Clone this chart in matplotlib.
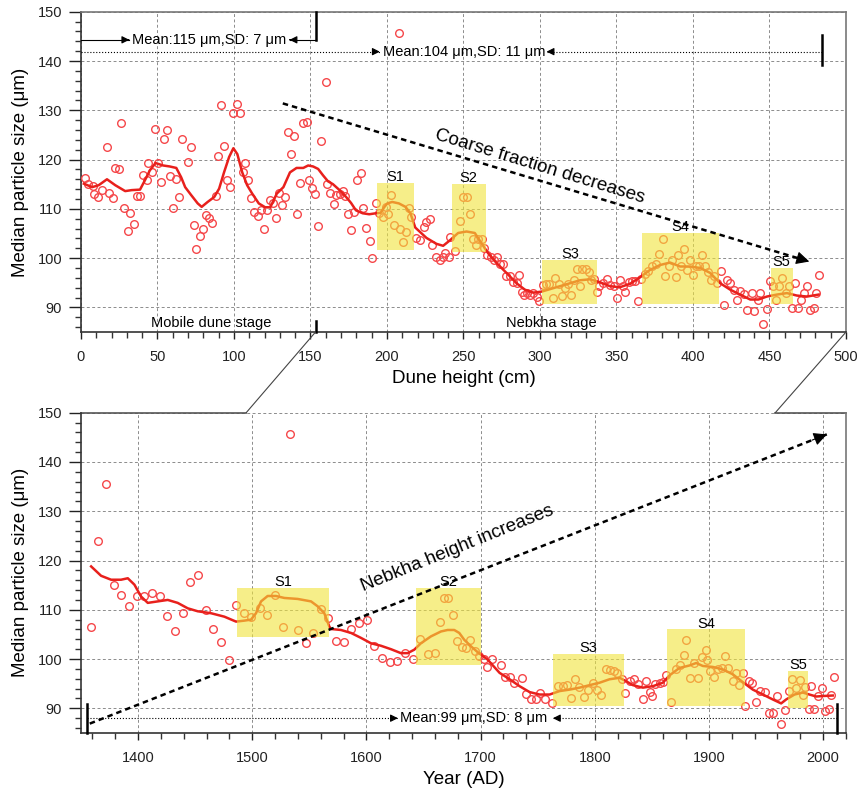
import matplotlib.pyplot as plt
from matplotlib.patches import Rectangle, ConnectionPatch
from matplotlib.ticker import MultipleLocator

plt.rcParams['font.family'] = ['Liberation Sans', 'DejaVu Sans']

# ---- top panel: grain size vs dune height ----
height = [2.6, 4.7, 7.8, 8.4, 11, 13.8, 16.8, 18.5, 20.7, 22.4, 25, 26.3, 28.4, 30.6, 32.1, 34.5,
          36.4, 38.6, 40.3, 42.9, 44, 46.6, 48.3, 50.4, 52.2, 54.3, 56, 58, 60.1, 61.9, 63.8, 66.2,
          69.8, 72, 74.1, 75.4, 77.8, 80, 81.9, 83.8, 85.8, 88, 89.7, 91.8, 93.8, 95.5, 97.4, 99.4,
          101.7, 103.9, 105.6, 107.5, 109.1, 111.4, 113.4, 115.5, 117.7, 119.6, 121.6, 123.3, 125.6,
          127.4, 129.5, 131.3, 133.4, 135.1, 137.3, 139.2, 141, 143.1, 145.3, 147.4, 149.1, 151.1,
          153, 155, 157.1, 159.9, 160.8, 162.9, 165.1, 166.8, 169, 171.1, 172.4, 174.8, 176.7, 178.7,
          180.6, 183, 184.5, 186.6, 188.6, 190.3, 192.7, 194.8, 197.2, 199.1, 200.9, 202.4, 204.5,
          207.9, 208.2, 210.6, 212.5, 214.4, 216, 218.8, 221.9, 224, 225.8, 228, 229.7, 231.9, 234.5,
          236.7, 238, 240.6, 241.5, 244.5, 247.6, 249.8, 252.4, 254.2, 255.9, 258.1, 259.8, 262,
          263.7, 265.5, 267.7, 269.9, 272, 273.8, 276, 277.7, 280.3, 282.1, 284.7, 286, 288, 289.5,
          291.7, 293.4, 295.2, 297.8, 299.5, 301.7, 303.9, 306.1, 308.3, 310, 312.2, 314.4, 316.5,
          318.5, 320.2, 322.2, 323.9, 326.1, 327.4, 329.8, 331.8, 333.5, 335.3, 337, 338.8, 341.4,
          343.6, 345.8, 348.4, 350.1, 352.3, 354.1, 355.8, 358, 360.2, 362.3, 364.3, 366.3, 368.5,
          370.9, 373.3, 375.9, 378.1, 380.3, 382, 384.2, 386.4, 388.6, 390.3, 392.1, 394.3, 396, 398.2,
          400, 401.7, 403.9, 406, 407.7, 409.5, 411.7, 413.9, 415.6, 418.2, 420, 422.2, 424.4, 426.5,
          428.7, 430.9, 433.1, 435.6, 438.3, 440, 442.2, 444, 446, 448.3, 450.1, 452.2, 454.4, 456.1,
          458.3, 460.5, 462.5, 464.6, 466.4, 468.6, 470.5, 472.3, 474.5, 476.7, 478.8, 480.1, 482.5]
size_h = [116.3, 115.1, 114.6, 113, 112.4, 113.9, 122.6, 113.2, 112.3, 118.3, 118.1, 127.4, 110.1,
          105.5, 109.2, 106.9, 112.6, 112.6, 116.9, 115.8, 119.3, 117.5, 126.3, 119.3, 115.4, 124.2,
          126.1, 116.7, 110.1, 116, 112.4, 124.1, 119.5, 122.6, 106.8, 101.9, 104.4, 105.9, 108.8,
          108.1, 107.2, 112.6, 120.8, 131, 122.8, 115.9, 114.4, 129.5, 131.2, 129.5, 117.4, 119.3,
          115.8, 112.1, 109.4, 108.5, 109.7, 106, 109.7, 111.7, 111.1, 108.1, 113.2, 110.7, 112.4,
          125.5, 121.1, 124.8, 108.9, 115.3, 127.4, 127.7, 115.8, 114.2, 113.1, 106.6, 123.8, 135.7,
          115.1, 113.2, 110.9, 112.9, 113, 113.6, 112.7, 108.9, 105.8, 109.4, 115.8, 117.2, 110.1,
          106.2, 103.5, 100, 111.1, 109.2, 108.4, 110.3, 109, 112.9, 106.7, 145.7, 106, 103.3, 105.4,
          110.1, 108.4, 104.1, 103.6, 106.3, 107.4, 108, 102.7, 100.3, 99.7, 100.2, 101.1, 100.2,
          104.3, 101.4, 107.6, 112.5, 112.5, 108.9, 103.9, 102.6, 103.9, 103.9, 102, 100.6, 100.3,
          99.7, 100.2, 98.9, 98.9, 96.3, 96.3, 95.1, 94.9, 96.5, 93.2, 92.6, 93, 92.6, 93, 92.2, 91.2,
          94.6, 94.8, 94.8, 92, 95.9, 94.7, 92.4, 93.9, 94.7, 92.6, 95.6, 97.8, 94.4, 97.8, 97.8, 97.1,
          95.6, 95.8, 93.2, 94.3, 94.9, 95.8, 94.6, 94.4, 91.9, 95.6, 94.3, 93.2, 95.1, 95.3, 95.4,
          91.2, 95.7, 96.8, 97.3, 98.3, 98.8, 100.9, 103.9, 96.4, 98.3, 99.7, 96.1, 100.7, 98.3, 101.8,
          97.6, 99.7, 96.6, 98.3, 98.5, 100.7, 98.3, 97.1, 95.6, 96.4, 94.9, 97.4, 90.5, 95.5, 94.9,
          93.6, 91.4, 93.4, 92.8, 89.4, 92.9, 89.2, 91.6, 92.9, 86.7, 89.7, 95.3, 94.3, 91.4, 94.3,
          95.9, 92.9, 94.4, 89.9, 94.9, 89.9, 91.6, 92.9, 94.4, 89.4, 89.9, 93, 96.5]

smooth_height = [1.9, 7.3, 11.6, 17, 22.4, 28.9, 33.2, 38.6, 41.8, 45, 48.7, 53.7, 58, 62.3, 65.5,
                 68.1, 72, 76.3, 78.9, 82.8, 87.1, 90.3, 93.5, 96.8, 99.6, 102.2, 105.4, 108.6,
                 111.9, 116.2, 120.5, 123.7, 128, 132.3, 136.6, 140.9, 145.3, 148.5, 151.7, 155,
                 158.2, 161.4, 164.7, 169, 173.3, 176.5, 179.7, 184.1, 188.4, 192.7, 195.9, 198.1,
                 200.2, 203.4, 207.8, 212.1, 215.3, 218.5, 225.8, 232.3, 236.7, 241.1, 246.5, 252,
                 257.4, 261.8, 266.1, 271.6, 278.1, 284.7, 290.1, 295.6, 301, 306.5, 313, 319.6,
                 326.1, 332.7, 339.2, 345.8, 352.3, 358.9, 365.4, 371.9, 378.5, 385, 391.6, 398.1,
                 404.7, 411.2, 417.8, 424.3, 430.8, 437.4, 442.8, 448.3, 454.8, 461.4, 467.9, 474.5,
                 482.1]
smooth_size_h = [115.1, 114.4, 114.8, 116, 114.8, 113.6, 113.8, 113.9, 115.8, 117.8, 119.3, 118.8,
                 118.6, 118.3, 116.4, 114.4, 112.8, 111.1, 110.4, 111.4, 112.4, 114.1, 117.4, 120.5,
                 122.3, 121.1, 117.4, 114.8, 113.1, 111.1, 110.3, 110.3, 113.1, 114.4, 117.4, 118.3,
                 118.3, 118.8, 118.6, 118.1, 116.8, 115.6, 115, 113.8, 112.4, 111.2, 109.7, 109.1,
                 108.9, 109.1, 109.2, 110.3, 111.1, 111.4, 111.1, 110.4, 109.1, 106.2, 104.1, 102.9,
                 102.5, 103.6, 105.1, 105.4, 105.1, 103, 101, 99, 97, 94.9, 93.6, 93, 93.2, 93.7,
                 94.3, 94.9, 95.5, 95.7, 95.1, 94.3, 94.1, 94.8, 96.1, 97.6, 98.6, 99.1, 98.3, 98.3,
                 98, 97, 94.9, 93.6, 92.6, 91.6, 91.6, 92.2, 92.6, 92.9, 92.4, 92.2, 92.6]

# ---- bottom panel: grain size vs year ----
year = [1358.9, 1365.3, 1372.3, 1378.7, 1385.4, 1392.4, 1399.1, 1405.5, 1412.5, 1419, 1425.7,
        1432.4, 1439.1, 1445.8, 1452.8, 1459.2, 1465.9, 1472.7, 1479.4, 1486.1, 1492.5, 1498.9,
        1506.5, 1512.9, 1519.9, 1526.6, 1532.8, 1539.8, 1546.8, 1553.2, 1560.2, 1566.6, 1573.6,
        1580, 1586.5, 1593.2, 1600.2, 1606.9, 1613.6, 1620.3, 1626.7, 1633.7, 1640.5, 1646.6,
        1653.6, 1660.3, 1664.1, 1667.6, 1671.7, 1675.8, 1679.3, 1683.4, 1687.4, 1690.9, 1695,
        1698.8, 1702.6, 1705.5, 1709.6, 1717.5, 1721, 1725.4, 1728.9, 1736.5, 1740, 1744.1, 1748.1,
        1752.2, 1756.3, 1762.7, 1767.4, 1772.1, 1775.6, 1779.1, 1782.6, 1786.1, 1790.5, 1794.3,
        1798.3, 1801.8, 1805.1, 1809.4, 1812.9, 1816.4, 1819.3, 1823.4, 1826.4, 1831, 1834.5, 1838,
        1842.1, 1845, 1848.5, 1850.3, 1852.3, 1856.7, 1859.6, 1862.5, 1866.9, 1871.3, 1874.8,
        1877.7, 1880.1, 1883, 1886.5, 1890.6, 1893.5, 1897, 1898.7, 1901.1, 1904.6, 1907.5, 1911,
        1914, 1916.8, 1920.9, 1923.8, 1926.2, 1929.7, 1931.4, 1934.9, 1937.8, 1941.3, 1944.8,
        1948.9, 1952.4, 1956.5, 1959.4, 1963.2, 1966.4, 1970.5, 1972.8, 1975.8, 1979.3, 1982.2,
        1983.9, 1987.4, 1989.5, 1992.1, 1995.6, 1999.1, 2002, 2004.9, 2007.3, 2009.9]
size_y = [106.5, 123.9, 135.5, 115.1, 113.1, 110.8, 112.8, 112.8, 113.4, 112.7, 108.8, 105.7, 109.3,
          115.7, 117.1, 110, 106.1, 103.4, 99.8, 111, 109.3, 108.5, 110.3, 108.9, 112.9, 106.6, 145.7,
          105.9, 103.2, 105.3, 110.1, 108.3, 103.7, 103.4, 106.2, 107.4, 108, 102.7, 100.2, 99.5,
          99.7, 101.2, 100, 104.1, 101.1, 101.2, 107.5, 112.4, 112.4, 108.9, 103.6, 102.4, 102.2,
          103.9, 101.6, 100.7, 100, 98.4, 100.1, 98.8, 96.4, 96.4, 95.2, 96.2, 93, 91.9, 91.9, 93.2,
          91.8, 91.1, 94.6, 94.6, 94.8, 92.1, 96, 94.4, 92.3, 93.7, 95.2, 93.8, 92.8, 97.9, 97.7,
          97.5, 97.2, 95.9, 93.2, 95.6, 95.9, 94.9, 91.8, 95.6, 93.3, 92.5, 94.9, 95.1, 95.3, 96.7,
          91.2, 97.9, 98.7, 100.9, 103.8, 96.2, 99.1, 96.1, 100.4, 101.8, 99.9, 97.5, 96.4, 97.9,
          98.2, 100.6, 98.2, 95.5, 97.2, 94.8, 97.2, 90.5, 95.5, 95.1, 91.3, 93.5, 93.3, 89.1, 89.1,
          92.5, 86.8, 89.7, 93.5, 95.9, 94.2, 95.7, 92.8, 94.4, 89.9, 94.6, 89.9, 92.5, 94.2, 89.5,
          89.9, 92.8, 96.4]

smooth_year = [1358.9, 1367.6, 1376.4, 1385.1, 1391, 1396.8, 1402.6, 1408.5, 1417.2, 1426, 1434.7,
               1443.5, 1452.2, 1463.9, 1475.6, 1485.8, 1493.1, 1498.9, 1503.3, 1507.7, 1513.5,
               1520.8, 1528.1, 1539.8, 1551.5, 1557.3, 1563.1, 1567.5, 1569, 1577.7, 1586.5,
               1595.2, 1604, 1612.7, 1621.5, 1630.2, 1636.1, 1641.9, 1647.7, 1656.5, 1665.3,
               1671.1, 1676.9, 1681.3, 1685.7, 1691.5, 1697.4, 1706.1, 1716.6, 1725.4, 1734.1,
               1742.9, 1751.7, 1760.4, 1769.2, 1777.9, 1786.7, 1795.4, 1804.2, 1812.9, 1821.7,
               1827.5, 1833.4, 1842.1, 1850.9, 1859.6, 1865.5, 1874.2, 1883, 1888.8, 1894.6,
               1903.4, 1912.1, 1920.9, 1929.7, 1938.4, 1947.2, 1955.9, 1963.2, 1967.6, 1974.9,
               1982.2, 1988, 1993.9, 1999.7, 2008.4]
smooth_size_y = [118.8, 116.9, 116.1, 116.1, 116.4, 115.1, 112.7, 111.4, 111.7, 112, 111.4, 110.3,
                 109.7, 109.3, 108.6, 107.6, 107.8, 108, 109.3, 111.7, 112.8, 112.8, 112.4, 112.2,
                 111.7, 110.7, 109.3, 106.6, 106.1, 105.9, 105.3, 104.3, 103.2, 102.7, 102, 101.2,
                 101.2, 101.9, 103.2, 104.6, 105.6, 105.9, 105.9, 105.3, 103.9, 102.6, 101.4, 99.9,
                 97.2, 95.9, 94.5, 93.3, 92.8, 92.8, 93.5, 93.8, 94.2, 94.7, 95.2, 95.9, 96.2, 95.5,
                 94.7, 94.2, 94.5, 95.2, 96.7, 98.2, 98.7, 99.2, 98.6, 98.4, 97.9, 96.9, 95.3, 93.8,
                 92.8, 91.8, 91, 91.8, 92.8, 93.2, 92.8, 92.4, 92.5, 92.6]

# shaded stages: (x0, x1, y0, y1)
stage_labels = ['S1', 'S2', 'S3', 'S4', 'S5']
stages_height = [(193.8, 217.6, 101.7, 115.3), (242.3, 264.5, 101.3, 115.1),
                 (301.5, 337.5, 90.7, 99.7), (366.9, 417, 90.7, 105.1), (450.9, 465.1, 90.7, 98)]
stages_year = [(1486.7, 1567.3, 104.4, 114.4), (1643.7, 1700, 98.8, 114.4),
               (1763.5, 1825.4, 90.5, 101.1), (1863.5, 1931.5, 90.5, 106), (1969.2, 1986.7, 90, 97.6)]

RED = '#e8201c'
PT = '#f5474a'
YEL = '#f0e43a'


def style(ax):
    ax.set_ylim(85, 150)
    ax.set_yticks(range(90, 151, 10))
    ax.yaxis.set_minor_locator(MultipleLocator(2))
    ax.grid(True, which='major', color='#8c8c8c', lw=0.7, linestyle=(0, (3, 2.5)))
    ax.set_axisbelow(True)
    ax.tick_params(axis='y', which='major', length=8.5, width=1, pad=5, labelsize=10.5, colors='#222')
    ax.tick_params(axis='y', which='minor', length=4, width=1, colors='#333')
    ax.tick_params(axis='x', which='major', length=5, width=1, pad=8, labelsize=10.5, colors='#222')
    ax.tick_params(axis='x', which='minor', length=4, width=1, colors='#333')
    for s in ['left', 'bottom']:
        ax.spines[s].set_color('#333')
        ax.spines[s].set_linewidth(1.2)
    for s in ['top', 'right']:
        ax.spines[s].set_color('#777')
        ax.spines[s].set_linewidth(1.2)
    ax.set_ylabel('Median particle size (\u03bcm)', fontsize=13.5, labelpad=6)


def head(ax, x0, y0, x1, y1, scale=11):
    # short solid segment that carries only the arrow head
    ax.annotate('', xy=(x1, y1), xytext=(x1 - 0.02 * (x1 - x0), y1 - 0.02 * (y1 - y0)),
                arrowprops=dict(arrowstyle='-|>', color='k', lw=0.8, mutation_scale=scale,
                                shrinkA=0, shrinkB=0))


def arrow(ax, x0, y0, x1, y1, ls='-', lw=0.8, scale=11):
    ax.plot([x0, x1], [y0, y1], color='k', lw=lw, linestyle=ls, clip_on=False, zorder=5)
    head(ax, x0, y0, x1, y1, scale)


def stages(ax, boxes):
    for lab, (x0, x1, y0, y1) in zip(stage_labels, boxes):
        ax.add_patch(Rectangle((x0, y0), x1 - x0, y1 - y0, facecolor=YEL, alpha=0.6,
                               edgecolor='none', zorder=4))
        ax.text((x0 + x1) / 2, y1 + 0.35, lab, ha='center', va='baseline', fontsize=10.5, zorder=6)


fig = plt.figure(figsize=(8.66, 7.93), dpi=100)
ax1 = fig.add_axes([0.0935, 0.5813, 0.8834, 0.4039])
ax2 = fig.add_axes([0.0935, 0.0757, 0.8834, 0.4039])

# top panel
ax1.plot(height, size_h, 'o', mfc='none', mec=PT, mew=1.0, ms=5.5, zorder=3)
ax1.plot(smooth_height, smooth_size_h, color=RED, lw=1.8, zorder=3)
stages(ax1, stages_height)
style(ax1)
ax1.set_xlim(0, 500)
ax1.xaxis.set_major_locator(MultipleLocator(50))
ax1.xaxis.set_minor_locator(MultipleLocator(10))
ax1.set_xlabel('Dune height (cm)', fontsize=13.5, labelpad=4)

ax1.plot([153.3, 153.3], [150, 144.3], color='k', lw=1.8, clip_on=False, zorder=5)
arrow(ax1, 153.3, 144.3, 136.3, 144.3)
arrow(ax1, 0, 144.3, 31.6, 144.3)
ax1.text(33.5, 144.3, 'Mean:115 \u03bcm,SD: 7 \u03bcm', va='center', fontsize=10.5)
arrow(ax1, 0, 141.9, 195.3, 141.9, ls=':')
ax1.text(197.2, 141.9, 'Mean:104 \u03bcm,SD: 11 \u03bcm', va='center', fontsize=10.5)
arrow(ax1, 484.5, 141.9, 304.3, 141.9, ls=':')
ax1.plot([484.5, 484.5], [139.2, 145.3], color='k', lw=1.8, zorder=5)

ax1.plot([153.3, 153.3], [85, 87.2], color='k', lw=1.8, clip_on=False, zorder=5)
ax1.text(85, 86.8, 'Mobile dune stage', ha='center', va='center', fontsize=10.5)
ax1.text(307.5, 86.8, 'Nebkha stage', ha='center', va='center', fontsize=10.5)

arrow(ax1, 131.9, 131.4, 476, 99.3, ls=(0, (2.2, 1.6)), lw=1.8, scale=20)
ax1.text(300, 118.6, 'Coarse fraction decreases', rotation=-17, rotation_mode='anchor',
         ha='center', va='center', fontsize=13.5)

# bottom panel
ax2.plot(year, size_y, 'o', mfc='none', mec=PT, mew=1.0, ms=5.5, zorder=3)
ax2.plot(smooth_year, smooth_size_y, color=RED, lw=1.8, zorder=3)
stages(ax2, stages_year)
style(ax2)
ax2.set_xlim(1350, 2020)
ax2.xaxis.set_major_locator(MultipleLocator(100))
ax2.xaxis.set_minor_locator(MultipleLocator(20))
ax2.set_xlabel('Year (AD)', fontsize=13.5, labelpad=4)
ax2.spines['top'].set_visible(False)
ax2.plot([0, 0.216], [1, 1], transform=ax2.transAxes, color='#555', lw=1.2, clip_on=False)
ax2.plot([0.9076, 1], [1, 1], transform=ax2.transAxes, color='#555', lw=1.2, clip_on=False)

ax2.plot([1355.7, 1355.7], [85, 90.8], color='k', lw=1.8, clip_on=False, zorder=5)
ax2.plot([2012.2, 2012.2], [85, 90.8], color='k', lw=1.8, clip_on=False, zorder=5)
arrow(ax2, 1355.7, 88, 1627.6, 88, ls=':')
ax2.text(1629, 88, 'Mean:99 \u03bcm,SD: 8 \u03bcm', va='center', fontsize=10.5)
arrow(ax2, 2012.2, 88, 1763.3, 88, ls=':')

arrow(ax2, 1357.7, 86.9, 2003.2, 145.6, ls=(0, (2.2, 1.6)), lw=1.8, scale=20)
ax2.text(1680, 122.5, 'Nebkha height increases', rotation=22, rotation_mode='anchor',
         ha='center', va='center', fontsize=13.5)

# zoom-like connector lines between panels
for xa, xb in [(153.3, 0.216), (500, 0.9076)]:
    con = ConnectionPatch(xyA=(xa, 85), coordsA=ax1.transData, xyB=(xb, 1),
                          coordsB=ax2.transAxes, color='#444', lw=0.8)
    fig.add_artist(con)

fig.savefig('out.png', dpi=100)
